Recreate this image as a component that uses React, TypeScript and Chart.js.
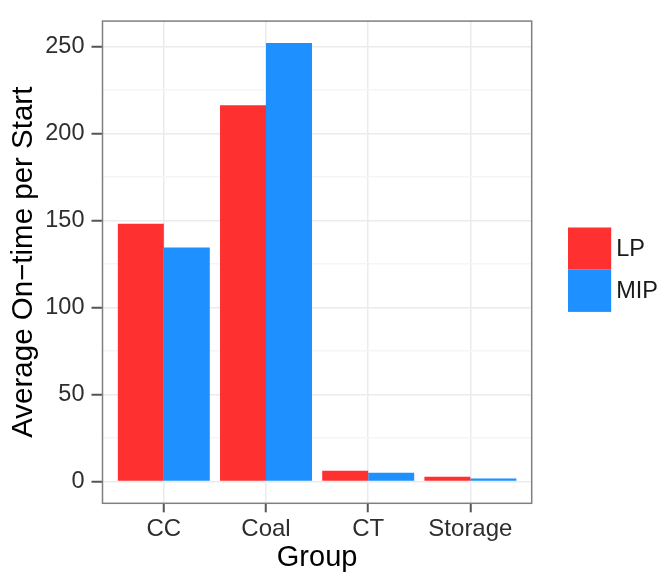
import { useEffect, useRef } from "react";
import { Chart, registerables } from "chart.js";

Chart.register(...registerables);

// Average on-time per start, by generator group
const groups = ["CC", "Coal", "CT", "Storage"];
const lpValues = [148.0, 216.2, 6.1, 2.6];
const mipValues = [134.4, 251.9, 4.9, 1.6];
const seriesNames = ["LP", "MIP"];
const seriesColors = ["#FF3030", "#1E90FF"];
const yMajorTicks = [0, 50, 100, 150, 200, 250];
const yMinorTicks = [25, 75, 125, 175, 225];

const FONT = "'Liberation Sans', Arial, Helvetica, sans-serif";
const W = 662;
const H = 579;

// panel placement
const PANEL_LEFT = 102.5;
const PANEL_RIGHT = 531.7;
const PANEL_TOP = 7.7;
const PANEL_BOTTOM = 503.3;

// legend placement
const KEY_X = 568;
const KEY_Y = 227.5;
const KEY_SIZE = 42.2;

const TICK_COLOR = "#2E2E2E";

const panelBorder = {
  id: "panelBorder",
  afterDatasetsDraw(chart: Chart) {
    const { ctx, chartArea } = chart;
    ctx.save();
    ctx.strokeStyle = "#7F7F7F";
    ctx.lineWidth = 1.5;
    ctx.strokeRect(
      chartArea.left,
      chartArea.top,
      chartArea.right - chartArea.left,
      chartArea.bottom - chartArea.top
    );
    ctx.restore();
  },
};

const sideLegend = {
  id: "sideLegend",
  afterDraw(chart: Chart) {
    const { ctx } = chart;
    ctx.save();
    seriesNames.forEach((name, i) => {
      const y = KEY_Y + i * KEY_SIZE;
      ctx.fillStyle = seriesColors[i];
      ctx.fillRect(KEY_X, y, KEY_SIZE + 1, KEY_SIZE);
      ctx.fillStyle = "#1A1A1A";
      ctx.font = `23.5px ${FONT}`;
      ctx.textAlign = "left";
      ctx.textBaseline = "middle";
      ctx.fillText(name, KEY_X + KEY_SIZE + 6, y + KEY_SIZE / 2 + 1);
    });
    ctx.restore();
  },
};

export default function App() {
  const canvasRef = useRef<HTMLCanvasElement | null>(null);

  useEffect(() => {
    const canvas = canvasRef.current;
    if (!canvas) return;

    const maxVal = Math.max(...lpValues, ...mipValues);
    const pad = maxVal * 0.05;
    const yTickValues = [...yMajorTicks, ...yMinorTicks].sort((a, b) => a - b);
    const isMajor = (v: number) => yMajorTicks.includes(v);

    const chart = new Chart(canvas, {
      type: "bar",
      data: {
        datasets: [
          {
            label: seriesNames[0],
            data: lpValues.map((v, i) => ({ x: i, y: v })),
            backgroundColor: seriesColors[0],
            borderWidth: 0,
            categoryPercentage: 0.9,
            barPercentage: 1.0,
          },
          {
            label: seriesNames[1],
            data: mipValues.map((v, i) => ({ x: i, y: v })),
            backgroundColor: seriesColors[1],
            borderWidth: 0,
            categoryPercentage: 0.9,
            barPercentage: 1.0,
          },
        ],
      },
      options: {
        responsive: false,
        animation: false,
        events: [],
        layout: {
          padding: {
            left: 0,
            top: PANEL_TOP,
            right: W - PANEL_RIGHT,
            bottom: 0,
          },
        },
        plugins: {
          legend: { display: false },
          tooltip: { enabled: false },
        },
        scales: {
          x: {
            type: "linear",
            offset: false,
            min: -0.6,
            max: groups.length - 1 + 0.6,
            afterBuildTicks: (scale: any) => {
              scale.ticks = groups.map((_, i) => ({ value: i }));
            },
            afterFit: (scale: any) => {
              scale.height = H - PANEL_BOTTOM;
            },
            ticks: {
              autoSkip: false,
              maxRotation: 0,
              padding: 3,
              color: TICK_COLOR,
              font: { family: FONT, size: 24 },
              callback: (v: any) => groups[Math.round(Number(v))] ?? "",
            },
            grid: {
              offset: false,
              color: "#EBEBEB",
              lineWidth: 1.5,
              tickLength: 9,
              tickColor: "#555555",
              tickWidth: 2,
            },
            border: { display: false },
            title: {
              display: true,
              text: "Group",
              color: "#000000",
              font: { family: FONT, size: 29 },
              padding: { top: 0, bottom: 4 },
            },
          },
          y: {
            type: "linear",
            min: -pad,
            max: maxVal + pad,
            afterBuildTicks: (scale: any) => {
              scale.ticks = yTickValues.map((v) => ({ value: v }));
            },
            afterFit: (scale: any) => {
              scale.width = PANEL_LEFT;
            },
            ticks: {
              autoSkip: false,
              padding: 7,
              color: TICK_COLOR,
              font: { family: FONT, size: 23.5 },
              callback: (v: any) => (isMajor(Number(v)) ? String(v) : ""),
            },
            grid: {
              color: (c: any) => (isMajor(c.tick?.value) ? "#EBEBEB" : "#F5F5F5"),
              lineWidth: 1.5,
              tickLength: 11,
              tickColor: (c: any) => (isMajor(c.tick?.value) ? "#555555" : "rgba(0,0,0,0)"),
              tickWidth: 2,
            },
            border: { display: false },
            title: {
              display: true,
              text: "Average On\u2212time per Start",
              color: "#000000",
              font: { family: FONT, size: 29.5 },
              padding: { top: 6, bottom: 0 },
            },
          },
        },
      },
      plugins: [panelBorder, sideLegend],
    } as any);

    return () => chart.destroy();
  }, []);

  return (
    <div style={{ position: "fixed", left: 0, top: 0, width: W, height: H, background: "#FFFFFF" }}>
      <canvas ref={canvasRef} width={W} height={H} style={{ display: "block" }} />
    </div>
  );
}
